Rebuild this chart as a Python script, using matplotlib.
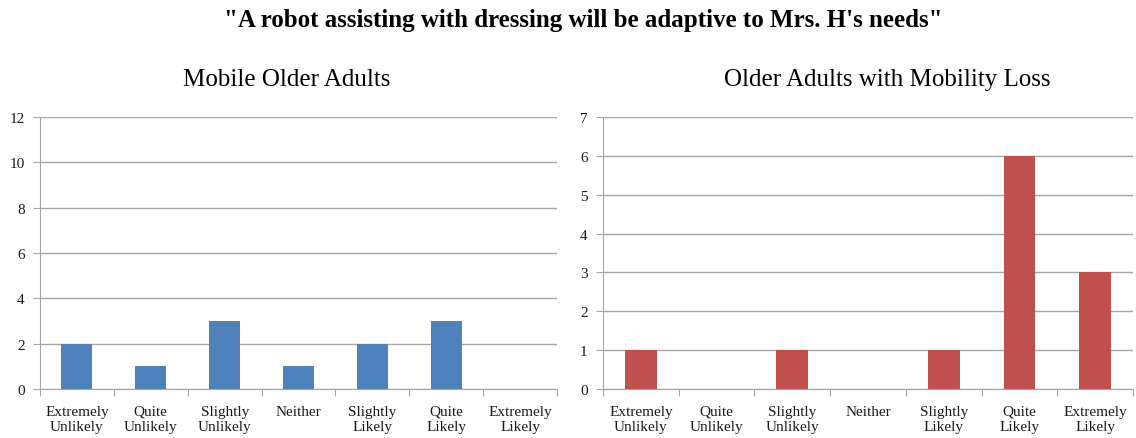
import matplotlib
matplotlib.use("Agg")
import matplotlib.pyplot as plt
import numpy as np

categories = ["Extremely\nUnlikely", "Quite\nUnlikely", "Slightly\nUnlikely", "Neither",
              "Slightly\nLikely", "Quite\nLikely", "Extremely\nLikely"]
mobile_values = [2, 1, 3, 1, 2, 3, 0]
mobility_loss_values = [1, 0, 1, 0, 1, 6, 3]
main_title = "\"A robot assisting with dressing will be adaptive to Mrs. H's needs\""
left_title = "Mobile Older Adults"
right_title = "Older Adults with Mobility Loss"

plt.rcParams['font.family'] = ['Liberation Serif', 'DejaVu Serif']

W, H = 1136, 439
fig = plt.figure(figsize=(W / 100, H / 100), dpi=100)

def make_ax(x0, x1, y0, y1):
    return fig.add_axes([x0 / W, 1 - y1 / H, (x1 - x0) / W, (y1 - y0) / H])

grid_c = "#a6a6a6"

def style(ax, values, color, ymax, step):
    x = np.arange(len(values))
    ax.bar(x, values, width=0.42, color=color, zorder=3)
    ax.set_xlim(-0.5, len(values) - 0.5)
    ax.set_ylim(0, ymax)
    ax.set_yticks(np.arange(0, ymax + 0.01, step))
    ax.yaxis.grid(True, color=grid_c, linewidth=1.0, zorder=0)
    for s in ["top", "right"]:
        ax.spines[s].set_visible(False)
    ax.spines["left"].set_color(grid_c)
    ax.spines["bottom"].set_color(grid_c)
    ax.set_xticks(np.arange(-0.5, len(values) + 0.5, 1.0))
    ax.set_xticklabels([])
    ax.set_xticks(x, minor=True)
    ax.set_xticklabels(categories, minor=True, fontsize=11, linespacing=1.25,
                       va="top", color="#1a1a1a")
    ax.tick_params(axis="x", which="minor", length=0, pad=11.5)
    ax.tick_params(axis="x", which="major", length=5, color=grid_c)
    ax.tick_params(axis="y", length=5, color=grid_c, labelsize=11, pad=6,
                   labelcolor="#1a1a1a")

axL = make_ax(40, 557, 118, 390)
style(axL, mobile_values, "#4f81bd", 12, 2)
axR = make_ax(603, 1133, 118, 390)
style(axR, mobility_loss_values, "#c0504d", 7, 1)

fig.text(287 / W, 1 - 80 / H, left_title, ha="center", va="center", fontsize=18)
fig.text(887 / W, 1 - 80 / H, right_title, ha="center", va="center", fontsize=18)
fig.text(583 / W, 1 - 21 / H, main_title, ha="center", va="center",
         fontsize=18, fontweight="bold")

fig.savefig("out.png", dpi=100)
